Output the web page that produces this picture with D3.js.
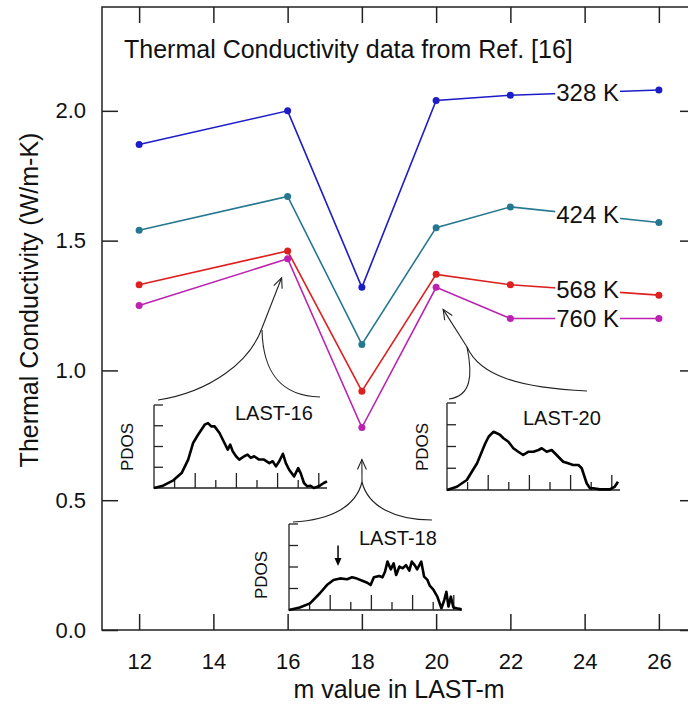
<!DOCTYPE html>
<html>
<head>
<meta charset="utf-8">
<script src="https://cdn.jsdelivr.net/npm/d3@7"></script>
<style>
  body { margin: 0; background: #fff; }
  svg { display: block; font-family: "Liberation Sans", Arial, sans-serif; }
</style>
</head>
<body>
<div id="chart"></div>
<script>
// m in LAST-m and thermal conductivity (W/m-K) for each temperature
const mValues = [12, 16, 18, 20, 22, 26];
const tempLabels = ['328 K', '424 K', '568 K', '760 K'];
const k328 = [1.87, 2.00, 1.32, 2.04, 2.06, 2.08];
const k424 = [1.54, 1.67, 1.10, 1.55, 1.63, 1.57];
const k568 = [1.33, 1.46, 0.92, 1.37, 1.33, 1.29];
const k760 = [1.25, 1.43, 0.78, 1.32, 1.20, 1.20];
const seriesColors = ['#1c1cc8', '#267890', '#de1f1f', '#bb22b0'];

const xTicks = [12, 14, 16, 18, 20, 22, 24, 26];
const yTicks = [0.0, 0.5, 1.0, 1.5, 2.0];

// PDOS insets, [frequency, pdos] pairs
const pdos16 = [[0,0],[0.22,0.11],[0.47,0.37],[0.67,0.72],[0.83,1.37],[0.95,2.17],[1.07,2.57],
  [1.23,3.05],[1.31,3.13],[1.39,2.97],[1.47,2.97],[1.59,2.65],[1.71,2.17],[1.79,1.85],[1.85,2.09],
  [1.91,1.77],[1.99,1.53],[2.07,1.37],[2.19,1.53],[2.27,1.61],[2.35,1.45],[2.43,1.53],[2.55,1.37],
  [2.67,1.37],[2.80,1.20],[2.88,1.29],[2.96,1.04],[3.04,1.29],[3.13,1.65],[3.20,1.20],[3.28,0.88],
  [3.40,0.56],[3.50,0.96],[3.56,0.72],[3.64,0.24],[3.72,0.08],[3.80,0.11],[3.88,0],[4.0,0.08],
  [4.12,0.24],[4.2,0.32]];
const pdos18 = [[0,0],[0.26,0.12],[0.51,0.31],[0.75,0.78],[0.92,1.16],[1.08,1.40],[1.24,1.47],
  [1.41,1.43],[1.53,1.52],[1.65,1.46],[1.78,1.36],[1.90,1.27],[1.98,1.16],[2.06,1.52],[2.19,1.58],
  [2.27,1.52],[2.33,1.78],[2.39,2.25],[2.47,1.89],[2.54,2.17],[2.60,1.63],[2.68,2.02],[2.76,1.94],
  [2.84,2.09],[2.92,1.83],[2.98,2.25],[3.05,2.09],[3.11,1.89],[3.21,2.25],[3.28,1.55],[3.36,1.40],
  [3.42,1.12],[3.50,0.96],[3.60,0.62],[3.70,0.08],[3.77,0.47],[3.82,0.85],[3.87,0.16],[3.93,0.62],
  [3.99,0.12],[4.07,0.08],[4.19,0.03]];
const pdos20 = [[0,0],[0.24,0.15],[0.48,0.46],[0.73,1.23],[0.93,2.15],[1.01,2.45],[1.13,2.68],
  [1.21,2.61],[1.29,2.53],[1.37,2.38],[1.49,2.22],[1.61,1.92],[1.73,1.76],[1.85,1.61],[1.98,1.76],
  [2.10,1.76],[2.22,1.84],[2.30,1.92],[2.42,1.76],[2.54,1.84],[2.66,1.61],[2.82,1.30],[2.94,1.23],
  [3.06,1.15],[3.19,1.15],[3.27,1.0],[3.31,0.77],[3.39,0.31],[3.47,0.08],[3.55,0.08],[3.71,0.03],
  [3.95,0.03],[4.07,0.15],[4.15,0.38]];
const insetTicksY = [1, 2, 3, 4];
const insetTicksX = [0.5, 1, 1.5, 2, 2.5, 3, 3.5, 4];

const W = 688, H = 708;

const svg = d3.select('#chart').append('svg')
  .attr('width', W).attr('height', H);

const x = d3.scaleLinear().domain([11, 27]).range([102, 696]);
const y = d3.scaleLinear().domain([0, 2.4]).range([630, 7]);

function label(g, px, py, str, size, anchor) {
  return g.append('text')
    .attr('x', px).attr('y', py)
    .attr('text-anchor', anchor || 'start')
    .attr('font-size', size)
    .attr('fill', '#111')
    .text(str);
}

// Frame
svg.append('rect')
  .attr('x', x.range()[0]).attr('y', y.range()[1])
  .attr('width', x.range()[1] - x.range()[0])
  .attr('height', y.range()[0] - y.range()[1])
  .attr('fill', 'none').attr('stroke', '#222').attr('stroke-width', 1.5);

// Axes (ticks point inward)
const axisB = svg.append('g').attr('transform', `translate(0,${y(0)})`)
  .call(d3.axisBottom(x).tickValues(xTicks).tickSizeInner(-16).tickSizeOuter(0).tickPadding(23));
const axisT = svg.append('g').attr('transform', `translate(0,${y(2.4)})`)
  .call(d3.axisTop(x).tickValues(xTicks).tickSizeInner(-16).tickSizeOuter(0).tickFormat(''));
const axisL = svg.append('g').attr('transform', `translate(${x(11)},0)`)
  .call(d3.axisLeft(y).tickValues(yTicks).tickSizeInner(-16).tickSizeOuter(0).tickPadding(16)
    .tickFormat(d3.format('.1f')));
const axisR = svg.append('g').attr('transform', `translate(${x(27)},0)`)
  .call(d3.axisRight(y).tickValues(yTicks).tickSizeInner(-16).tickSizeOuter(0).tickFormat(''));

[axisB, axisT, axisL, axisR].forEach(a => {
  a.select('.domain').remove();
  a.selectAll('.tick line').attr('stroke', '#222').attr('stroke-width', 1.5);
  a.selectAll('.tick text')
    .attr('font-size', 22).attr('fill', '#111')
    .attr('font-family', '"Liberation Sans", Arial, sans-serif');
});

// Axis titles
label(svg, 399, 698, 'm value in LAST-m', 25, 'middle');
svg.append('text')
  .attr('transform', 'translate(38,300) rotate(-90)')
  .attr('text-anchor', 'middle').attr('font-size', 25).attr('fill', '#111')
  .text('Thermal Conductivity (W/m-K)');

label(svg, 124, 58, 'Thermal Conductivity data from Ref. [16]', 25);

// Series
const series = [k328, k424, k568, k760].map((vals, i) => ({
  label: tempLabels[i],
  color: seriesColors[i],
  points: mValues.map((m, j) => ({ m: m, k: vals[j] }))
}));

const line = d3.line().x(d => x(d.m)).y(d => y(d.k));
const seriesG = svg.append('g');

series.forEach(s => {
  seriesG.append('path')
    .datum(s.points)
    .attr('d', line)
    .attr('fill', 'none')
    .attr('stroke', s.color)
    .attr('stroke-width', 1.6);
  seriesG.selectAll(null)
    .data(s.points)
    .enter()
    .append('circle')
    .attr('cx', d => x(d.m))
    .attr('cy', d => y(d.k))
    .attr('r', 3.5)
    .attr('fill', s.color);
});

// Temperature labels sit on the line at m = 24, with a white patch behind
series.forEach(s => {
  const a = s.points[4], b = s.points[5];
  const kAt = a.k + (b.k - a.k) * (24 - a.m) / (b.m - a.m);
  const g = seriesG.append('g');
  const bg = g.append('rect').attr('fill', '#fff');
  const t = label(g, x(24) + 3, y(kAt) + 8.5, s.label, 24, 'middle');
  const bb = t.node().getBBox();
  bg.attr('x', bb.x - 1).attr('y', y(kAt) - 9)
    .attr('width', bb.width + 2).attr('height', 18);
});

// PDOS insets
const insets = [
  { data: pdos16, label: 'LAST-16', m: 16, x0: 154, base: 488, h: 83, fmax: 4.2,
    tip: [-6, 19], labelAt: [81, 15], pdosAt: [-21, 42],
    left: 'M158,400 C210,392 250,362 262,328', right: 'M262,330 C263,372 280,396 320,397' },
  { data: pdos18, label: 'LAST-18', m: 18, x0: 289, base: 610, h: 86, fmax: 4.2,
    tip: [0, 32], labelAt: [70, 21], pdosAt: [-22, 51],
    left: 'M293,522 C332,520 356,506 362,482', right: 'M362,482 C368,506 394,520 432,520',
    marker: [1.19, 3.0, 2.05] },
  { data: pdos20, label: 'LAST-20', m: 20, x0: 447, base: 490, h: 87, fmax: 4.2,
    tip: [7, 22], labelAt: [76, 22], pdosAt: [-19, 44],
    left: 'M467,347 C473,376 471,396 449,399', right: 'M467,347 C480,376 520,388 587,391' }
];

const insetG = svg.append('g');

insets.forEach(ins => {
  const fx = d3.scaleLinear().domain([0, 1]).range([ins.x0, ins.x0 + 41.2]);
  const fy = d3.scaleLinear().domain([0, 4]).range([ins.base, ins.base - ins.h]);
  const g = insetG.append('g');

  // inset axes
  g.append('path')
    .attr('d', `M${fx(0)},${fy(4)} V${fy(0)} H${fx(ins.fmax)}`)
    .attr('fill', 'none').attr('stroke', '#222').attr('stroke-width', 1.3);
  g.selectAll(null).data(insetTicksY).enter().append('line')
    .attr('x1', fx(0)).attr('x2', fx(0) + 9)
    .attr('y1', d => fy(d)).attr('y2', d => fy(d))
    .attr('stroke', '#222').attr('stroke-width', 1.3);
  g.selectAll(null).data(insetTicksX).enter().append('line')
    .attr('x1', d => fx(d)).attr('x2', d => fx(d))
    .attr('y1', fy(0)).attr('y2', d => fy(0) - (Number.isInteger(d) ? 15 : 8))
    .attr('stroke', '#222').attr('stroke-width', 1.3);

  // spectrum
  g.append('path')
    .datum(ins.data)
    .attr('d', d3.line().x(d => fx(d[0])).y(d => fy(d[1])))
    .attr('fill', 'none').attr('stroke', '#000')
    .attr('stroke-width', 2.6).attr('stroke-linejoin', 'round');

  label(g, ins.x0 + ins.labelAt[0], fy(4) + ins.labelAt[1], ins.label, 20);
  g.append('text')
    .attr('transform', `translate(${ins.x0 + ins.pdosAt[0]},${fy(4) + ins.pdosAt[1]}) rotate(-90)`)
    .attr('text-anchor', 'middle').attr('font-size', 17).attr('fill', '#111')
    .text('PDOS');

  if (ins.marker) {
    const mx = fx(ins.marker[0]);
    g.append('line')
      .attr('x1', mx).attr('x2', mx)
      .attr('y1', fy(ins.marker[1])).attr('y2', fy(ins.marker[2]) - 6)
      .attr('stroke', '#000').attr('stroke-width', 1.5);
    g.append('path')
      .attr('d', `M${mx - 3.5},${fy(ins.marker[2]) - 8} L${mx},${fy(ins.marker[2])} L${mx + 3.5},${fy(ins.marker[2]) - 8} Z`)
      .attr('fill', '#000');
  }

  // connector brace with arrow towards the 760 K point
  const kIdx = mValues.indexOf(ins.m);
  const tipX = x(ins.m) + ins.tip[0];
  const tipY = y(k760[kIdx]) + ins.tip[1];
  const cusp = ins.left.split(' ').pop().split(',').map(Number);
  const start = ins.label === 'LAST-20' ? ins.left.slice(1).split(' ')[0].split(',').map(Number) : cusp;
  const conn = g.append('g').attr('fill', 'none').attr('stroke', '#222').attr('stroke-width', 1.1);
  conn.append('path').attr('d', ins.left);
  conn.append('path').attr('d', ins.right);
  conn.append('line')
    .attr('x1', start[0]).attr('y1', start[1]).attr('x2', tipX).attr('y2', tipY);
  const ang = Math.atan2(start[1] - tipY, start[0] - tipX);
  const hl = 11, spread = 0.42;
  conn.append('path')
    .attr('d', `M${tipX + hl * Math.cos(ang - spread)},${tipY + hl * Math.sin(ang - spread)} L${tipX},${tipY} L${tipX + hl * Math.cos(ang + spread)},${tipY + hl * Math.sin(ang + spread)}`);
});
</script>
</body>
</html>
